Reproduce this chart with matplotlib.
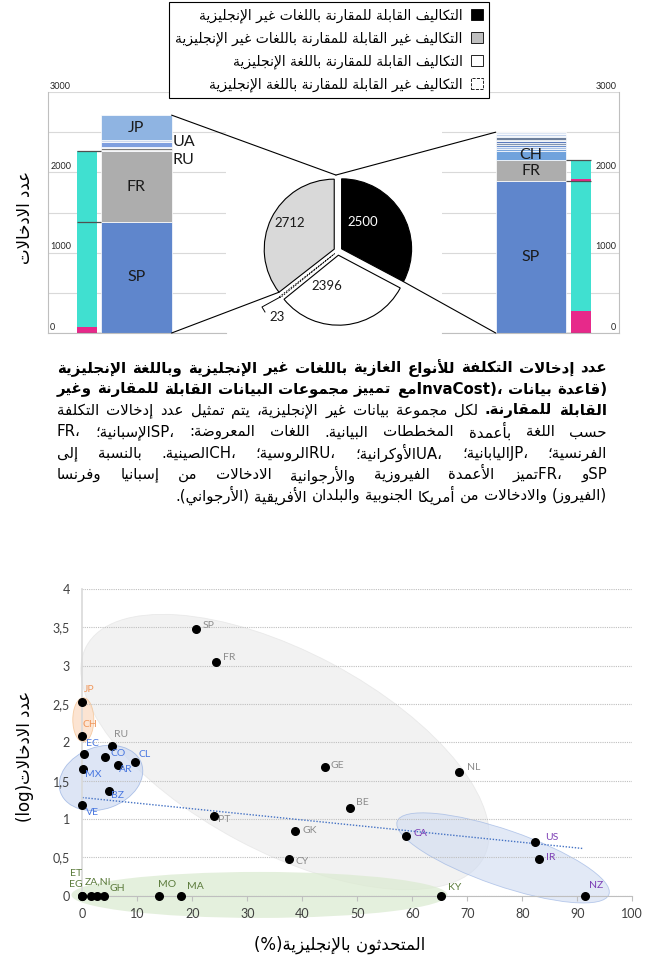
#!/usr/bin/env python3
"""InvaCost cost entries by language: bar-of-pie panel, caption and English-speakers scatter."""

import re

import matplotlib
matplotlib.use("Agg")
import matplotlib.pyplot as plt
import matplotlib.transforms as mtransforms
from matplotlib.patches import ConnectionPatch, Ellipse, Patch
from matplotlib.ticker import FuncFormatter, MultipleLocator
import numpy as np

W, H = 650, 958

# ---------------------------------------------------------------- data
# pie: all entries, clockwise from 12 o'clock
PIE_GROUPS = ['comparable, non-English', 'comparable, English',
              'non-comparable, English', 'non-comparable, non-English']
PIE_COUNTS = [2500, 2396, 23, 2712]

LEGEND_LABELS = [
    'التكاليف القابلة للمقارنة باللغات غير الإنجليزية',
    'التكاليف غير القابلة للمقارنة باللغات غير الإنجليزية',
    'التكاليف القابلة للمقارنة باللغة الإنجليزية',
    'التكاليف غير القابلة للمقارنة باللغة الإنجليزية',
]

# stacked bars, entries per language (bottom to top)
NONCOMP_LANGS = ['SP', 'FR', '', 'RU', '', 'UA', '', 'JP']
NONCOMP_COUNTS = [1385, 876, 12, 30, 15, 60, 20, 314]
COMP_LANGS = ['SP', 'FR', 'CH', '', '', '', '', '', '', '', '', '', '']
COMP_COUNTS = [1888, 269, 110, 28, 22, 25, 20, 24, 22, 26, 20, 24, 22]

# SP and FR entries by origin: SP south america, SP spain, FR africa, FR france
NONCOMP_ORIGIN = [75, 1310, 0, 876]
COMP_ORIGIN = [270, 1618, 32, 237]

# scatter: share of English speakers vs log10(number of entries)
COUNTRIES = ['SP', 'FR', 'JP', 'CH', 'RU', 'EC', 'CO', 'AR', 'CL', 'MX',
             'BZ', 'VE', 'PT', 'GK', 'CY', 'GE', 'NL', 'BE', 'CA', 'US',
             'IR', 'NZ', 'KY', 'MA', 'MO', 'GH', 'NI', 'ZA', 'EG', 'ET']
ENGLISH_PCT = [20.7, 24.3, 0.0, 0.0, 5.4, 0.3, 4.2, 6.4, 9.5, 0.2,
               4.9, 0.0, 23.9, 38.7, 37.5, 44.1, 68.5, 48.7, 58.9, 82.3,
               83.1, 91.4, 65.2, 18.0, 14.0, 4.0, 2.6, 1.5, 0.0, 0.0]
LOG_ENTRIES = [3.48, 3.05, 2.52, 2.08, 1.95, 1.85, 1.81, 1.71, 1.74, 1.65,
               1.37, 1.18, 1.04, 0.85, 0.48, 1.68, 1.61, 1.15, 0.78, 0.70,
               0.48, 0.0, 0.0, 0.0, 0.0, 0.0, 0.0, 0.0, 0.0, 0.0]
REGION = ['eu', 'eu', 'asia', 'asia', 'eu', 'sa', 'sa', 'sa', 'sa', 'sa',
          'sa', 'sa', 'eu', 'eu', 'eu', 'eu', 'eu', 'eu', 'en', 'en',
          'en', 'en', 'af', 'af', 'af', 'af', 'af', 'af', 'af', 'af']
LABEL_TEXT = {'ZA': 'ZA,NI', 'NI': ''}

# dotted linear trend
TREND_INTERCEPT = 1.28
TREND_SLOPE = -0.0073
TREND_XMAX = 91

CAPTION = [
    ('عدد إدخالات التكلفة للأنواع الغازية باللغات غير الإنجليزية وباللغة الإنجليزية', 99),
    ('(قاعدة بيانات ،(InvaCostمع تمييز مجموعات البيانات القابلة للمقارنة وغير', 99),
    ('القابلة للمقارنة. لكل مجموعة بيانات غير الإنجليزية، يتم تمثيل عدد إدخالات التكلفة', 2),
    ('حسب اللغة بأعمدة المخططات البيانية. اللغات المعروضة: ،SPالإسبانية؛ ،FR', 0),
    ('الفرنسية؛ ،JPاليابانية؛ ،UAالأوكرانية؛ ،RUالروسية؛ ،CHالصينية. بالنسبة إلى', 0),
    ('SPو ،FRتميز الأعمدة الفيروزية والأرجوانية الادخالات من إسبانيا وفرنسا', 0),
    ('(الفيروز) والادخالات من أمريكا الجنوبية والبلدان الأفريقية (الأرجواني).', 0),
]

# ---------------------------------------------------------------- arabic text
# matplotlib does no shaping or bidi, so pick presentation forms by hand
AR_FORMS = {}
for ch, base, n in [
        ('\u0621', 0xFE80, 1), ('\u0622', 0xFE81, 2), ('\u0623', 0xFE83, 2),
        ('\u0624', 0xFE85, 2), ('\u0625', 0xFE87, 2), ('\u0626', 0xFE89, 4),
        ('\u0627', 0xFE8D, 2), ('\u0628', 0xFE8F, 4), ('\u0629', 0xFE93, 2),
        ('\u062A', 0xFE95, 4), ('\u062B', 0xFE99, 4), ('\u062C', 0xFE9D, 4),
        ('\u062D', 0xFEA1, 4), ('\u062E', 0xFEA5, 4), ('\u062F', 0xFEA9, 2),
        ('\u0630', 0xFEAB, 2), ('\u0631', 0xFEAD, 2), ('\u0632', 0xFEAF, 2),
        ('\u0633', 0xFEB1, 4), ('\u0634', 0xFEB5, 4), ('\u0635', 0xFEB9, 4),
        ('\u0636', 0xFEBD, 4), ('\u0637', 0xFEC1, 4), ('\u0638', 0xFEC5, 4),
        ('\u0639', 0xFEC9, 4), ('\u063A', 0xFECD, 4), ('\u0641', 0xFED1, 4),
        ('\u0642', 0xFED5, 4), ('\u0643', 0xFED9, 4), ('\u0644', 0xFEDD, 4),
        ('\u0645', 0xFEE1, 4), ('\u0646', 0xFEE5, 4), ('\u0647', 0xFEE9, 4),
        ('\u0648', 0xFEED, 2), ('\u0649', 0xFEEF, 2), ('\u064A', 0xFEF1, 4)]:
    AR_FORMS[ch] = [chr(base + k) for k in range(n)]
LAM_ALEF = {'\u0622': 0xFEF5, '\u0623': 0xFEF7, '\u0625': 0xFEF9, '\u0627': 0xFEFB}
MIRROR = str.maketrans('()', ')(')


def shape(s):
    out = []
    i = 0
    while i < len(s):
        c = s[i]
        if c not in AR_FORMS:
            out.append(c)
            i += 1
            continue
        prev = s[i - 1] if i > 0 else ''
        nxt = s[i + 1] if i + 1 < len(s) else ''
        joins_prev = prev in AR_FORMS and len(AR_FORMS[prev]) == 4
        if c == '\u0644' and nxt in LAM_ALEF:
            out.append(chr(LAM_ALEF[nxt] + joins_prev))
            i += 2
            continue
        forms = AR_FORMS[c]
        joins_next = len(forms) == 4 and nxt in AR_FORMS and nxt != '\u0621'
        k = [[0, 2], [1, 3]][joins_prev][joins_next]
        out.append(forms[min(k, len(forms) - 1)])
        i += 1
    return ''.join(out)


def rtl(s):
    """Shape and reorder a right-to-left string for display."""
    runs = re.findall(r'[A-Za-z0-9]+|[^A-Za-z0-9]+', shape(s))
    return ''.join(r if (r[0].isascii() and r[0].isalnum()) else r[::-1].translate(MIRROR)
                   for r in reversed(runs))


AR_FONT = ['DejaVu Sans']
plt.rcParams['font.family'] = ['Lato', 'DejaVu Sans']

fig = plt.figure(figsize=(W / 100, H / 100), dpi=100)


def fig_axes(x0, y0, x1, y1):
    """Axes from pixel box (top-left origin)."""
    return fig.add_axes([x0 / W, 1 - y1 / H, (x1 - x0) / W, (y1 - y0) / H])


# ---------------------------------------------------------------- bar panels
LANG_COLORS = {'SP': '#5f86cc', 'FR': '#adadad', 'RU': '#7a7a7a', 'UA': '#7f9fdf',
               'JP': '#8fb4e2', 'CH': '#70a2dc'}
FILLER_COLORS = ['#c5d0e4', '#d0d8e8', '#cfd9ec']
MINOR_COLORS = ['#7aa6dc', '#a9c2e6', '#6a8fcf', '#8496b0', '#5b7bbd',
                '#b8c7dd', '#6d7f9b', '#9db8e2', '#c3d3ec', '#dde6f4']
ORIGIN_COLORS = ['#e7298a', '#40e0d0', '#e7298a', '#40e0d0']


def stack_colors(langs):
    cols, f, m = [], 0, 0
    for lang in langs:
        if lang:
            cols.append(LANG_COLORS[lang])
        elif len(langs) < 10:
            cols.append(FILLER_COLORS[f % 3])
            f += 1
        else:
            cols.append(MINOR_COLORS[m % 10])
            m += 1
    return cols


def bar_panel(ax, langs, counts, origin, stack_x, origin_x, side):
    bottoms = np.concatenate([[0], np.cumsum(counts)[:-1]])
    ax.bar(stack_x, counts, 0.395, bottom=bottoms, color=stack_colors(langs),
           edgecolor='white', linewidth=0.5, zorder=2)
    obot = np.concatenate([[0], np.cumsum(origin)[:-1]])
    ax.bar(origin_x, origin, 0.112, bottom=obot, color=ORIGIN_COLORS,
           linewidth=0, zorder=2)
    # bracket ticks at the SP / FR limits
    levels = [0, counts[0], counts[0] + counts[1]]
    if side == 'left':
        xa, xb = origin_x - 0.056, stack_x - 0.1975
    else:
        xa, xb = stack_x + 0.1975, origin_x + 0.056
    ax.hlines(levels, xa, xb, color='#505050', lw=0.9, zorder=3)

    ax.set_xlim(0, 1)
    ax.set_ylim(0, 3000)
    ax.yaxis.set_major_locator(MultipleLocator(500))
    ax.grid(axis='y', color='#d9d9d9', lw=0.8, zorder=0)
    ax.tick_params(length=0, labelleft=False, labelbottom=False)
    ax.set_xticks([])
    for sp in ax.spines.values():
        sp.set_visible(False)
    keep = ax.spines['left' if side == 'left' else 'right']
    keep.set_visible(True)
    keep.set_color('#bfbfbf')
    ax.spines['bottom'].set_visible(True)
    ax.spines['bottom'].set_color('#bfbfbf')
    tr = mtransforms.blended_transform_factory(ax.transAxes, ax.transData)
    for v in range(0, 3001, 1000):
        if side == 'left':
            ax.text(0.012, v + 15, str(v), transform=tr, fontsize=6.5,
                    ha='left', va='bottom', color='#262626')
        else:
            ax.text(0.985, v + 15, str(v), transform=tr, fontsize=6.5,
                    ha='right', va='bottom', color='#262626')
    return bottoms


ax_l = fig_axes(48, 92, 226, 333)
bot_l = bar_panel(ax_l, NONCOMP_LANGS, NONCOMP_COUNTS, NONCOMP_ORIGIN, 0.497, 0.219, 'left')
ax_r = fig_axes(442, 92, 619, 333)
bot_r = bar_panel(ax_r, COMP_LANGS, COMP_COUNTS, COMP_ORIGIN, 0.501, 0.784, 'right')

outside = {'UA': 2, 'RU': -11}
for lang, v, b in zip(NONCOMP_LANGS, NONCOMP_COUNTS, bot_l):
    if not lang:
        continue
    if lang in outside:
        ax_l.annotate(lang, (0.70, b + v / 2), xytext=(0, outside[lang]),
                      textcoords='offset pixels', ha='left', va='center',
                      fontsize=11.5, color='#1a1a1a')
    else:
        ax_l.text(0.497, b + v / 2, lang, ha='center', va='center',
                  fontsize=11.5, color='#1a1a1a', zorder=4)
for lang, v, b in zip(COMP_LANGS, COMP_COUNTS, bot_r):
    if lang:
        ax_r.text(0.501, b + v / 2, lang, ha='center', va='center',
                  fontsize=11.5, color='#1a1a1a', zorder=4)

fig.text(25 / W, 1 - 217 / H, rtl('عدد الادخالات'), rotation=90, ha='center',
         va='center', fontsize=12, family=AR_FONT)

# ---------------------------------------------------------------- pie
ax_p = fig_axes(338 - 87.5, 251 - 87.5, 338 + 87.5, 251 + 87.5)
wedges, _ = ax_p.pie(PIE_COUNTS, colors=['black', 'white', 'white', '#d9d9d9'],
                     startangle=90, counterclock=False, explode=[0.06] * 4,
                     wedgeprops=dict(edgecolor='black', linewidth=0.8))
wedges[2].set_linestyle((0, (2, 1.5)))
wedges[2].set_linewidth(0.6)
ax_p.set_xlim(-1.25, 1.25)
ax_p.set_ylim(-1.25, 1.25)
ax_p.axis('off')

PIE_TEXT_POS = [(0.54, 49), (0.53, 252), (1.28, 227), (0.79, 150)]
PIE_TEXT_COL = ['white', '#1a1a1a', '#1a1a1a', '#1a1a1a']
for n, (r, a), col in zip(PIE_COUNTS, PIE_TEXT_POS, PIE_TEXT_COL):
    ax_p.text(r * np.cos(np.radians(a)), r * np.sin(np.radians(a)), str(n),
              ha='center', va='center', fontsize=9.5, color=col)
# leader for the tiny slice
w = wedges[2]
tm = np.radians((w.theta1 + w.theta2) / 2)
ax_p.plot([w.center[0] + np.cos(tm), -1.086, -1.043],
          [w.center[1] + np.sin(tm), -0.80, -0.871], color='black', lw=0.7,
          clip_on=False)


def rim(wedge, theta):
    t = np.radians(theta)
    return (wedge.center[0] + np.cos(t), wedge.center[1] + np.sin(t))


top_pt = (-0.03, 1.085)
links = [
    (ax_l, (0.497 + 0.1975, sum(NONCOMP_COUNTS)), top_pt),
    (ax_l, (0.497 + 0.1975, 0), rim(wedges[3], wedges[3].theta2)),
    (ax_r, (0.501 - 0.1975, sum(COMP_COUNTS)), top_pt),
    (ax_r, (0.501 - 0.1975, 0), rim(wedges[0], wedges[0].theta1)),
]
for ax, pa, pb in links:
    fig.add_artist(ConnectionPatch(pa, pb, coordsA='data', coordsB='data',
                                   axesA=ax, axesB=ax_p, color='black', lw=0.8))

# ---------------------------------------------------------------- legend
handles = [Patch(facecolor='black', edgecolor='black', lw=0.6),
           Patch(facecolor='#bfbfbf', edgecolor='black', lw=0.6),
           Patch(facecolor='white', edgecolor='black', lw=0.6),
           Patch(facecolor='white', edgecolor='black', lw=0.6, linestyle='--')]
leg = fig.legend(handles, [rtl(t) for t in LEGEND_LABELS], loc='upper right',
                 bbox_to_anchor=(489 / W, 1 - 2 / H), markerfirst=False,
                 fancybox=False, edgecolor='black', framealpha=1,
                 prop=dict(family=AR_FONT, size=10), handlelength=0.85,
                 handleheight=0.85, labelspacing=0.62, borderpad=0.45,
                 handletextpad=0.6, borderaxespad=0)
leg.get_frame().set_linewidth(0.8)

# ---------------------------------------------------------------- caption
# right-to-left, justified; the last line keeps normal spacing
CAP_X0, CAP_X1, CAP_Y0, CAP_DY, CAP_SIZE = 57, 607, 368, 21.3, 10.8
renderer = fig.canvas.get_renderer()
for li, (line, nbold) in enumerate(CAPTION):
    words = line.split()
    arts = [fig.text(0, 1 - (CAP_Y0 + li * CAP_DY) / H, rtl(wd), fontsize=CAP_SIZE,
                     fontweight='bold' if k < nbold else 'normal', family=AR_FONT,
                     ha='right', va='center', color='black')
            for k, wd in enumerate(words)]
    widths = [a.get_window_extent(renderer).width for a in arts]
    last = li == len(CAPTION) - 1
    gap = 4.8 if last else (CAP_X1 - CAP_X0 - sum(widths)) / (len(words) - 1)
    x = CAP_X1
    for a, wd in zip(arts, widths):
        a.set_x(x / W)
        x -= wd + gap

# ---------------------------------------------------------------- scatter
REGION_COLORS = {'eu': '#8c8c8c', 'asia': '#f0965a', 'sa': '#4a78e0',
                 'en': '#7d3fb5', 'af': '#5b7b3b'}
LABEL_OFFSETS = {'SP': (6, 3), 'FR': (7, 4), 'JP': (2, 13), 'CH': (0, 12),
                 'RU': (2, 12), 'EC': (2, 10), 'CO': (5, 3), 'AR': (1, -5),
                 'CL': (4, 8), 'MX': (2, -5), 'BZ': (2, -5), 'VE': (4, -7),
                 'PT': (4, -4), 'GK': (7, 0), 'CY': (7, -2.5), 'GE': (6, 1.5),
                 'NL': (8, 5), 'BE': (6, 5), 'CA': (7, 2), 'US': (10, 5),
                 'IR': (7, 1.5), 'NZ': (4, 10), 'KY': (7, 8), 'MA': (6, 9),
                 'MO': (-1, 11), 'GH': (5, 7), 'NI': (0, 0), 'ZA': (-6, 13.5),
                 'EG': (-13, 11.5), 'ET': (-12, 22.5)}

ax_s = fig_axes(82.3, 589, 632.3, 895.7)


def blob(ax, cx, cy, a_px, b_px, angle, **kw):
    """Ellipse sized in pixels, centred on a data point."""
    tr = (mtransforms.Affine2D().scale(a_px, b_px).rotate_deg(angle)
          + mtransforms.ScaledTranslation(cx, cy, ax.transData))
    ax.add_patch(Ellipse((0, 0), 2, 2, transform=tr, clip_on=False, **kw))


ax_s.set_xlim(0, 100)
ax_s.set_ylim(0, 4)
blob(ax_s, 36.85, 1.874, 225, 100, -28, facecolor='#e9e9e9', alpha=0.55,
     edgecolor='#dddddd', lw=0.6, zorder=0.6)
blob(ax_s, 32.2, 0.01, 188, 23, 0, facecolor='#dcebd2', alpha=0.75,
     edgecolor='none', zorder=0.7)
blob(ax_s, 0.18, 2.295, 10.5, 22, 0, facecolor='#fbdcc4', alpha=0.75,
     edgecolor='#f4bf8c', lw=0.6, zorder=0.8)
blob(ax_s, 3.4, 1.536, 43, 31, 20, facecolor='#cfdbf1', alpha=0.7,
     edgecolor='#8fabe0', lw=0.6, zorder=0.8)
blob(ax_s, 76.5, 0.493, 112, 28, -19, facecolor='#cfdbf1', alpha=0.6,
     edgecolor='#8fabe0', lw=0.6, zorder=0.8)

tx = np.array([0, TREND_XMAX])
ax_s.plot(tx, TREND_INTERCEPT + TREND_SLOPE * tx, ls=(0, (1, 1.2)),
          color='#4472c4', lw=1.0, zorder=1.6)

ax_s.scatter(ENGLISH_PCT, LOG_ENTRIES, s=30, color='black', zorder=3, clip_on=False)
for c, x, y, reg in zip(COUNTRIES, ENGLISH_PCT, LOG_ENTRIES, REGION):
    label = LABEL_TEXT.get(c, c)
    if label:
        ax_s.annotate(label, (x, y), xytext=LABEL_OFFSETS[c], textcoords='offset pixels',
                      ha='left', va='center', fontsize=7.5, color=REGION_COLORS[reg],
                      annotation_clip=False, zorder=4)

ax_s.xaxis.set_major_locator(MultipleLocator(10))
ax_s.yaxis.set_major_locator(MultipleLocator(0.5))
ax_s.yaxis.set_major_formatter(FuncFormatter(lambda v, _: f'{v:g}'.replace('.', ',')))
ax_s.grid(axis='y', color='#bfbfbf', lw=0.8, ls=(0, (1, 1)))
ax_s.tick_params(axis='x', length=3.5, color='#bfbfbf', labelsize=9,
                 labelcolor='#404040', pad=5)
ax_s.tick_params(axis='y', length=0, labelsize=9, labelcolor='#404040', pad=9)
for side in ('top', 'right'):
    ax_s.spines[side].set_visible(False)
ax_s.spines['left'].set_color('#d9d9d9')
ax_s.spines['left'].set_linewidth(1.2)
ax_s.spines['bottom'].set_color('#bfbfbf')

fig.text(25 / W, 1 - 756 / H, rtl('عدد الادخالات(log)'), rotation=90, ha='center',
         va='center', fontsize=12, family=AR_FONT)
fig.text(340 / W, 1 - 945 / H, rtl('المتحدثون بالإنجليزية(%)'), ha='center',
         va='center', fontsize=12, family=AR_FONT)

fig.savefig('out.png', dpi=100)
